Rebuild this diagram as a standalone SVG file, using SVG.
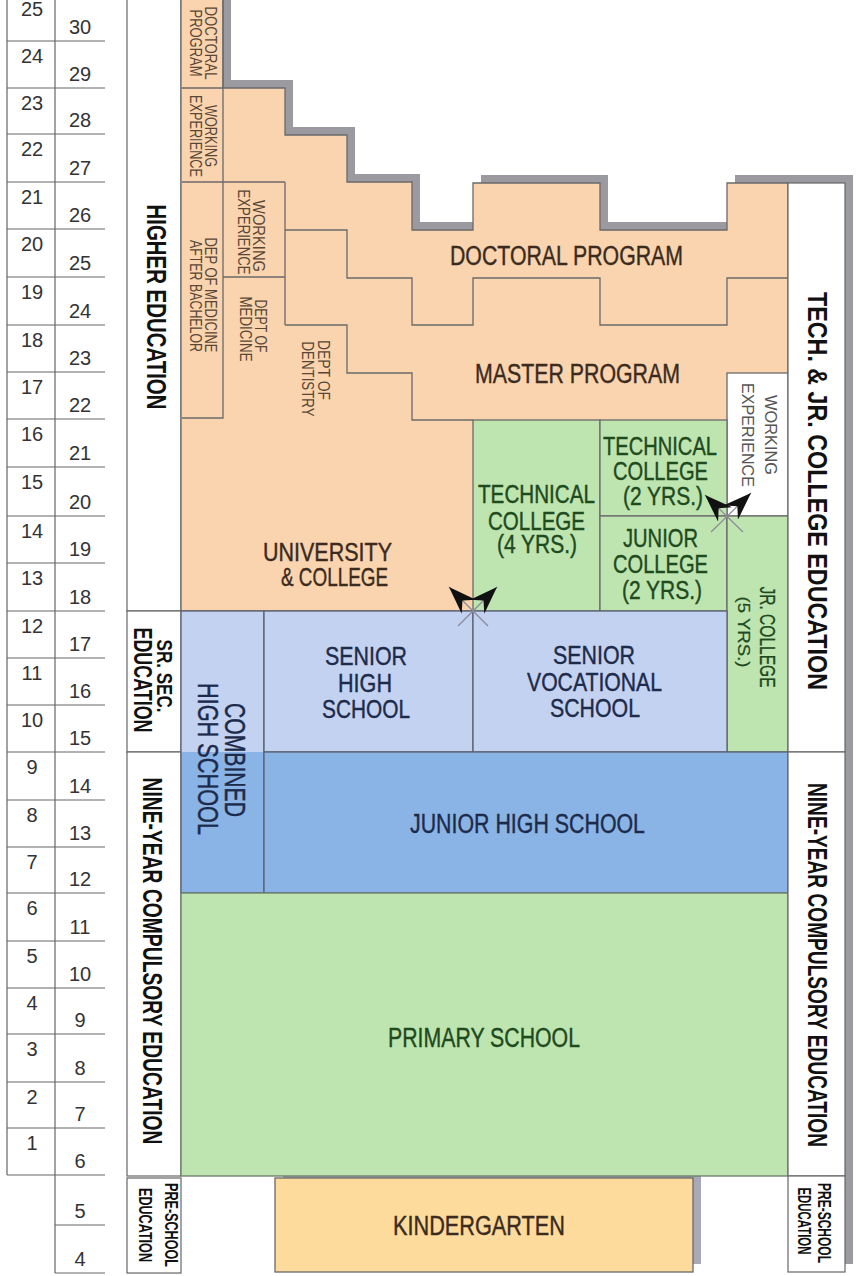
<svg xmlns="http://www.w3.org/2000/svg" width="857" height="1276" viewBox="0 0 857 1276">
<defs>
<style>
text{font-family:"Liberation Sans",Arial,sans-serif}
.num{font-size:20px;fill:#333;text-anchor:middle}
.m{font-size:27px;stroke-width:0.4px}
.ml{font-size:25px;stroke-width:0.4px}
.or{fill:#3b2b1e;stroke:#3b2b1e}
.gr{fill:#1e4a1e;stroke:#1e4a1e}
.bl{fill:#1d2b4a;stroke:#1d2b4a}
.sm{font-size:17px;fill:#5a4636;text-anchor:middle}
.wk{font-size:17px;fill:#555;text-anchor:middle}
.cat{font-size:27px;font-weight:bold;fill:#111;text-anchor:middle}
.cats{font-size:18px;font-weight:bold;fill:#111;text-anchor:middle}
.ln{fill:none;stroke:#6a6a6a;stroke-width:1.3}
.tl{stroke:#666;stroke-width:1.2}
.box{fill:#fff;stroke:#666;stroke-width:1.2}
.x{stroke:#8a8a98;stroke-width:1.2;marker-end:url(#dart)}
</style>
<marker id="dart" markerUnits="userSpaceOnUse" viewBox="0 0 30 20" markerWidth="30" markerHeight="20" refX="28" refY="10" orient="auto">
<path d="M28,10 L0,0 L9,10 L0,20 Z" fill="#111"/>
</marker>
</defs>
<rect width="857" height="1276" fill="#fff"/>

<g id="age-table">
<line class="tl" x1="7" y1="-10" x2="7" y2="1175"/>
<line class="tl" x1="55" y1="-10" x2="55" y2="1273"/>
<g class="tl">
<line x1="7" y1="41" x2="105" y2="41"/><line x1="7" y1="88" x2="105" y2="88"/><line x1="7" y1="134" x2="105" y2="134"/><line x1="7" y1="182" x2="105" y2="182"/><line x1="7" y1="229" x2="105" y2="229"/><line x1="7" y1="277" x2="105" y2="277"/><line x1="7" y1="325" x2="105" y2="325"/><line x1="7" y1="372" x2="105" y2="372"/><line x1="7" y1="419" x2="105" y2="419"/><line x1="7" y1="467" x2="105" y2="467"/><line x1="7" y1="516" x2="105" y2="516"/><line x1="7" y1="563" x2="105" y2="563"/><line x1="7" y1="611" x2="105" y2="611"/><line x1="7" y1="658" x2="105" y2="658"/><line x1="7" y1="705" x2="105" y2="705"/><line x1="7" y1="752" x2="105" y2="752"/><line x1="7" y1="800" x2="105" y2="800"/><line x1="7" y1="847" x2="105" y2="847"/><line x1="7" y1="893" x2="105" y2="893"/><line x1="7" y1="941" x2="105" y2="941"/><line x1="7" y1="988" x2="105" y2="988"/><line x1="7" y1="1034" x2="105" y2="1034"/><line x1="7" y1="1082" x2="105" y2="1082"/><line x1="7" y1="1128" x2="105" y2="1128"/><line x1="7" y1="1175" x2="105" y2="1175"/><line x1="55" y1="1225" x2="105" y2="1225"/><line x1="55" y1="1273" x2="105" y2="1273"/>
</g>
<g class="num">
<text x="32" y="16">25</text><text x="32" y="63">24</text><text x="32" y="110">23</text><text x="32" y="156">22</text><text x="32" y="204">21</text><text x="32" y="251">20</text><text x="32" y="299">19</text><text x="32" y="347">18</text><text x="32" y="394">17</text><text x="32" y="441">16</text><text x="32" y="489">15</text><text x="32" y="538">14</text><text x="32" y="585">13</text><text x="32" y="633">12</text><text x="32" y="680">11</text><text x="32" y="727">10</text><text x="32" y="774">9</text><text x="32" y="822">8</text><text x="32" y="869">7</text><text x="32" y="915">6</text><text x="32" y="963">5</text><text x="32" y="1010">4</text><text x="32" y="1056">3</text><text x="32" y="1104">2</text><text x="32" y="1150">1</text>
<text x="80" y="34">30</text><text x="80" y="81">29</text><text x="80" y="127">28</text><text x="80" y="175">27</text><text x="80" y="222">26</text><text x="80" y="270">25</text><text x="80" y="318">24</text><text x="80" y="365">23</text><text x="80" y="412">22</text><text x="80" y="460">21</text><text x="80" y="509">20</text><text x="80" y="556">19</text><text x="80" y="604">18</text><text x="80" y="651">17</text><text x="80" y="698">16</text><text x="80" y="745">15</text><text x="80" y="793">14</text><text x="80" y="840">13</text><text x="80" y="886">12</text><text x="80" y="934">11</text><text x="80" y="981">10</text><text x="80" y="1027">9</text><text x="80" y="1075">8</text><text x="80" y="1121">7</text><text x="80" y="1168">6</text><text x="80" y="1218">5</text><text x="80" y="1266">4</text>
</g>
</g>

<g id="cat-higher">
<rect class="box" x="127" y="-10" width="54" height="621"/>
<text class="cat" transform="translate(147,307) rotate(90)" textLength="205" lengthAdjust="spacingAndGlyphs">HIGHER EDUCATION</text>
</g>
<g id="cat-srsec">
<rect class="box" x="127" y="611" width="54" height="141"/>
<text class="cats" transform="translate(157,676) rotate(90)" textLength="73" lengthAdjust="spacingAndGlyphs" style="font-size:22px">SR. SEC.</text>
<text class="cats" transform="translate(134,680) rotate(90)" textLength="105" lengthAdjust="spacingAndGlyphs" style="font-size:25px">EDUCATION</text>
</g>
<g id="cat-nine-left">
<rect class="box" x="127" y="752" width="54" height="424"/>
<text class="cat" transform="translate(143,961) rotate(90)" textLength="367" lengthAdjust="spacingAndGlyphs">NINE-YEAR COMPULSORY EDUCATION</text>
</g>
<g id="cat-pre-left">
<rect class="box" x="127" y="1178" width="54" height="95"/>
<text class="cats" transform="translate(165,1225) rotate(90)" textLength="84" lengthAdjust="spacingAndGlyphs">PRE-SCHOOL</text>
<text class="cats" transform="translate(139,1225) rotate(90)" textLength="74" lengthAdjust="spacingAndGlyphs">EDUCATION</text>
</g>

<g id="shadow">
<polygon fill="#9a9aa0" transform="translate(8,-8)" points="181,-10 223,-10 223,88 285,88 285,135 347,135 347,182 412,182 412,230 473,230 473,183 600,183 600,230 727,230 727,183 845,183 845,1272 788,1272 788,1176 181,1176"/>
<rect x="283" y="1170" width="418" height="94" fill="#a8a8b6"/>
</g>

<g id="higher-ed-area">
<polygon fill="#f9d4ae" stroke="#6a6a6a" stroke-width="1.3" points="181,-10 223,-10 223,88 285,88 285,135 347,135 347,182 412,182 412,230 473,230 473,183 600,183 600,230 727,230 727,183 788,183 788,611 181,611"/>
</g>

<g id="doctoral-strip">
<polyline class="ln" points="182,88 223,88"/>
<polyline class="ln" points="182,182 285,182"/>
<polyline class="ln" points="223,-10 223,418 182,418"/>
<text class="sm" transform="translate(205,43) rotate(90)" textLength="73" lengthAdjust="spacingAndGlyphs">DOCTORAL</text>
<text class="sm" transform="translate(190,43) rotate(90)" textLength="67" lengthAdjust="spacingAndGlyphs">PROGRAM</text>
</g>
<g id="working-exp-1">
<text class="sm" transform="translate(205,136) rotate(90)" textLength="62" lengthAdjust="spacingAndGlyphs">WORKING</text>
<text class="sm" transform="translate(190,136) rotate(90)" textLength="82" lengthAdjust="spacingAndGlyphs">EXPERIENCE</text>
</g>
<g id="dep-medicine-after-bachelor">
<text class="sm" transform="translate(205,295) rotate(90)" textLength="115" lengthAdjust="spacingAndGlyphs">DEP OF MEDICINE</text>
<text class="sm" transform="translate(190,296) rotate(90)" textLength="112" lengthAdjust="spacingAndGlyphs">AFTER BACHELOR</text>
</g>
<g id="working-exp-2">
<polyline class="ln" points="223,277 285,277"/>
<polyline class="ln" points="285,182 285,325"/>
<text class="sm" transform="translate(253,236) rotate(90)" textLength="72" lengthAdjust="spacingAndGlyphs">WORKING</text>
<text class="sm" transform="translate(238,232) rotate(90)" textLength="85" lengthAdjust="spacingAndGlyphs">EXPERIENCE</text>
</g>
<g id="dept-medicine">
<text class="sm" transform="translate(255,326) rotate(90)" textLength="53" lengthAdjust="spacingAndGlyphs">DEPT OF</text>
<text class="sm" transform="translate(240,329) rotate(90)" textLength="65" lengthAdjust="spacingAndGlyphs">MEDICINE</text>
</g>
<g id="dept-dentistry">
<text class="sm" transform="translate(318,370) rotate(90)" textLength="60" lengthAdjust="spacingAndGlyphs">DEPT OF</text>
<text class="sm" transform="translate(302,379) rotate(90)" textLength="75" lengthAdjust="spacingAndGlyphs">DENTISTRY</text>
</g>
<g id="doctoral-program">
<polyline class="ln" points="285,230 347,230 347,278 412,278 412,325 473,325 473,278 600,278 600,325 727,325 727,278 788,278"/>
<text class="m or" x="450" y="265" textLength="233" lengthAdjust="spacingAndGlyphs">DOCTORAL PROGRAM</text>
</g>
<g id="master-program">
<polyline class="ln" points="285,325 347,325 347,373 412,373 412,420 473,420"/>
<text class="m or" x="475" y="383" textLength="205" lengthAdjust="spacingAndGlyphs">MASTER PROGRAM</text>
</g>
<g id="university">
<text class="ml or" x="263" y="561" textLength="129" lengthAdjust="spacingAndGlyphs">UNIVERSITY</text>
<text class="ml or" x="281" y="586" textLength="107" lengthAdjust="spacingAndGlyphs">&amp; COLLEGE</text>
</g>

<g id="working-exp-3">
<rect x="727" y="373" width="61" height="143" fill="#fff" stroke="#6a6a6a" stroke-width="1.3"/>
<text class="wk" transform="translate(765,435) rotate(90)" textLength="80" lengthAdjust="spacingAndGlyphs">WORKING</text>
<text class="wk" transform="translate(742,435) rotate(90)" textLength="104" lengthAdjust="spacingAndGlyphs">EXPERIENCE</text>
</g>
<g id="technical-4">
<rect x="473" y="420" width="127" height="191" fill="#bee5b0" stroke="#6a6a6a" stroke-width="1.3"/>
<text class="ml gr" x="478" y="503" textLength="117" lengthAdjust="spacingAndGlyphs">TECHNICAL</text>
<text class="ml gr" x="488" y="530" textLength="97" lengthAdjust="spacingAndGlyphs">COLLEGE</text>
<text class="ml gr" x="497" y="553" textLength="80" lengthAdjust="spacingAndGlyphs">(4 YRS.)</text>
</g>
<g id="technical-2">
<rect x="600" y="420" width="127" height="96" fill="#bee5b0" stroke="#6a6a6a" stroke-width="1.3"/>
<text class="ml gr" x="603" y="455" textLength="114" lengthAdjust="spacingAndGlyphs">TECHNICAL</text>
<text class="ml gr" x="613" y="480" textLength="95" lengthAdjust="spacingAndGlyphs">COLLEGE</text>
<text class="ml gr" x="623" y="505" textLength="80" lengthAdjust="spacingAndGlyphs">(2 YRS.)</text>
</g>
<g id="junior-college">
<rect x="600" y="516" width="127" height="95" fill="#bee5b0" stroke="#6a6a6a" stroke-width="1.3"/>
<text class="ml gr" x="623" y="547" textLength="75" lengthAdjust="spacingAndGlyphs">JUNIOR</text>
<text class="ml gr" x="613" y="573" textLength="95" lengthAdjust="spacingAndGlyphs">COLLEGE</text>
<text class="ml gr" x="622" y="599" textLength="80" lengthAdjust="spacingAndGlyphs">(2 YRS.)</text>
</g>
<g id="jr-college-5">
<rect x="727" y="516" width="61" height="236" fill="#bee5b0" stroke="#6a6a6a" stroke-width="1.3"/>
<text class="gr" transform="translate(760,637) rotate(90)" text-anchor="middle" style="font-size:22px;stroke-width:0.3px" textLength="101" lengthAdjust="spacingAndGlyphs">JR. COLLEGE</text>
<text class="gr" transform="translate(738,632) rotate(90)" text-anchor="middle" style="font-size:17px;stroke-width:0.2px" textLength="71" lengthAdjust="spacingAndGlyphs">(5 YRS.)</text>
</g>

<g id="combined-high-school">
<rect x="181" y="611" width="83" height="141" fill="#c4d2f2"/>
<rect x="181" y="752" width="83" height="141" fill="#8bb4e6"/>
<rect x="181" y="611" width="83" height="282" fill="none" stroke="#5a6070" stroke-width="1.3"/>
<text class="bl" transform="translate(225,760) rotate(90)" text-anchor="middle" style="font-size:30px;stroke-width:0.4px" textLength="114" lengthAdjust="spacingAndGlyphs">COMBINED</text>
<text class="bl" transform="translate(198,759) rotate(90)" text-anchor="middle" style="font-size:29px;stroke-width:0.4px" textLength="152" lengthAdjust="spacingAndGlyphs">HIGH SCHOOL</text>
</g>
<g id="senior-high">
<rect x="264" y="611" width="209" height="141" fill="#c4d2f2" stroke="#5a6070" stroke-width="1.3"/>
<text class="ml bl" x="325" y="665" textLength="82" lengthAdjust="spacingAndGlyphs">SENIOR</text>
<text class="ml bl" x="338" y="692" textLength="54" lengthAdjust="spacingAndGlyphs">HIGH</text>
<text class="ml bl" x="322" y="718" textLength="88" lengthAdjust="spacingAndGlyphs">SCHOOL</text>
</g>
<g id="senior-vocational">
<rect x="473" y="611" width="254" height="141" fill="#c4d2f2" stroke="#5a6070" stroke-width="1.3"/>
<text class="ml bl" x="553" y="664" textLength="82" lengthAdjust="spacingAndGlyphs">SENIOR</text>
<text class="ml bl" x="527" y="691" textLength="135" lengthAdjust="spacingAndGlyphs">VOCATIONAL</text>
<text class="ml bl" x="550" y="717" textLength="90" lengthAdjust="spacingAndGlyphs">SCHOOL</text>
</g>
<g id="junior-high">
<rect x="264" y="752" width="524" height="141" fill="#8bb4e6" stroke="#5a6070" stroke-width="1.3"/>
<text class="m bl" x="410" y="833" textLength="235" lengthAdjust="spacingAndGlyphs">JUNIOR HIGH SCHOOL</text>
</g>
<g id="primary">
<rect x="181" y="893" width="607" height="283" fill="#bee5b0" stroke="#6a7a6a" stroke-width="1.3"/>
<text class="m gr" x="388" y="1047" textLength="192" lengthAdjust="spacingAndGlyphs">PRIMARY SCHOOL</text>
</g>
<g id="kindergarten">
<rect x="275" y="1178" width="418" height="94" fill="#fddb9c" stroke="#6a6a6a" stroke-width="1.3"/>
<text class="m or" x="393" y="1235" textLength="172" lengthAdjust="spacingAndGlyphs">KINDERGARTEN</text>
</g>

<g id="cat-right">
<rect class="box" x="788" y="183" width="57" height="569"/>
<text class="cat" transform="translate(808,491) rotate(90)" textLength="398" lengthAdjust="spacingAndGlyphs">TECH. &amp; JR. COLLEGE EDUCATION</text>
<rect class="box" x="788" y="752" width="57" height="424"/>
<text class="cat" transform="translate(808,965) rotate(90)" textLength="364" lengthAdjust="spacingAndGlyphs">NINE-YEAR COMPULSORY EDUCATION</text>
<rect class="box" x="788" y="1176" width="57" height="96"/>
<text class="cats" transform="translate(818,1223) rotate(90)" textLength="80" lengthAdjust="spacingAndGlyphs">PRE-SCHOOL</text>
<text class="cats" transform="translate(798,1221) rotate(90)" textLength="67" lengthAdjust="spacingAndGlyphs">EDUCATION</text>
</g>

<g id="connectors">
<line class="x" x1="488" y1="626" x2="449" y2="587"/>
<line class="x" x1="458" y1="626" x2="497" y2="587"/>
<line class="x" x1="743" y1="532" x2="705" y2="495"/>
<line class="x" x1="711" y1="532" x2="751" y2="493"/>
</g>
</svg>
